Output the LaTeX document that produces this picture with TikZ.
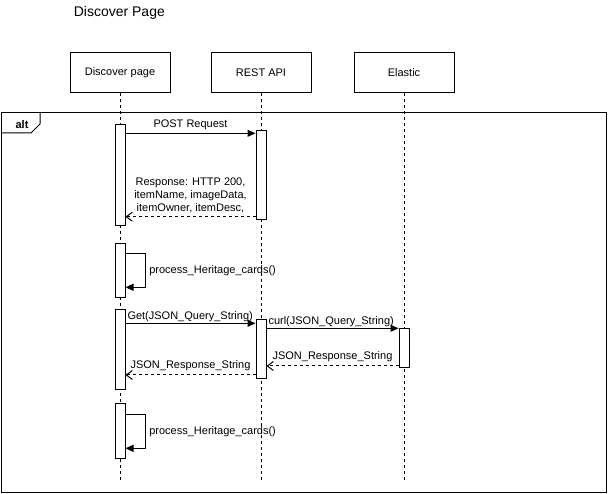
\documentclass[tikz,border=0pt]{standalone}
\usepackage{fontspec}
\setmainfont{Liberation Sans}
\usetikzlibrary{arrows.meta}

\begin{document}
\begin{tikzpicture}[x=1pt,y=-1pt,line width=1pt,font=\fontsize{11}{13}\selectfont,
    actor/.style={draw,minimum width=100pt,minimum height=40pt,inner sep=0pt},
    bar/.style={draw,fill=white,minimum width=10pt,inner sep=0pt},
    msg/.style={-{Triangle[length=8pt,width=7pt]}},
    ret/.style={dash pattern=on 3pt off 3pt,-{Straight Barb[length=6pt,width=9pt]}},
    life/.style={dash pattern=on 3pt off 3pt}]
    \useasboundingbox (0,0) rectangle (611,494);
    \node [anchor=west,font=\fontsize{14}{16}\selectfont] (T) at (70,13) {Discover Page};
    \node [actor] (DP) at (120,73) {Discover page};
    \node [actor] (R) at (261,73) {REST API};
    \node [actor] (E) at (404,73) {Elastic};
    \draw (1,113) rectangle (606,492);
    \draw (1,133) -- (31,133) -- (40,124) -- (40,113);
    \node [font=\bfseries\fontsize{11}{13}\selectfont] (A) at (22,125) {alt};
    \foreach \a in {DP,R,E}
      \draw[life] (\a.south) -- (\a.south |- 0,480);
    \node [bar,minimum height=100.7pt] (DP1) at (120,175.3) {};
    \node [bar,minimum height=89.3pt] (R1) at (261,175.3) {};
    \node [bar,minimum height=54pt] (DP2) at (120,270.3) {};
    \node [bar,minimum height=79.7pt] (DP3) at (120,349.2) {};
    \node [bar,minimum height=59pt] (R3) at (261,348.8) {};
    \node [bar,minimum height=39.4pt] (E3) at (404,348) {};
    \node [bar,minimum height=55pt] (DP4) at (120,430.8) {};
    \draw[msg] (DP1.east |- 0,133.3) to node [above] {POST Request} (R1.west |- 0,133.3);
    \draw[ret] (R1.west |- 0,216.7) to node [above,align=center]
      {Response: HTTP 200,\\itemName, imageData,\\itemOwner, itemDesc,} (DP1.east |- 0,216.7);
    \draw[msg] (DP2.east |- 0,253.3) -- ++(20,0) |- node [pos=0.25,right]
      {process\_Heritage\_cards()} (DP2.east |- 0,287.3);
    \draw[msg] (DP3.east |- 0,323.3) to node [pos=0,anchor=south west,inner sep=1.5pt]
      {Get(JSON\_Query\_String)} (R3.west |- 0,323.3);
    \draw[msg] (R3.east |- 0,328.3) to node [pos=0,anchor=south west,inner sep=1.5pt]
      {curl(JSON\_Query\_String)} (E3.west |- 0,328.3);
    \draw[ret] (E3.west |- 0,366) to node [above] {JSON\_Response\_String} (R3.east |- 0,366);
    \draw[ret] (R3.west |- 0,375) to node [above] {JSON\_Response\_String} (DP3.east |- 0,375);
    \draw[msg] (DP4.east |- 0,414.3) -- ++(20,0) |- node [pos=0.25,right]
      {process\_Heritage\_cards()} (DP4.east |- 0,448.3);
  \end{tikzpicture}
\end{document}
